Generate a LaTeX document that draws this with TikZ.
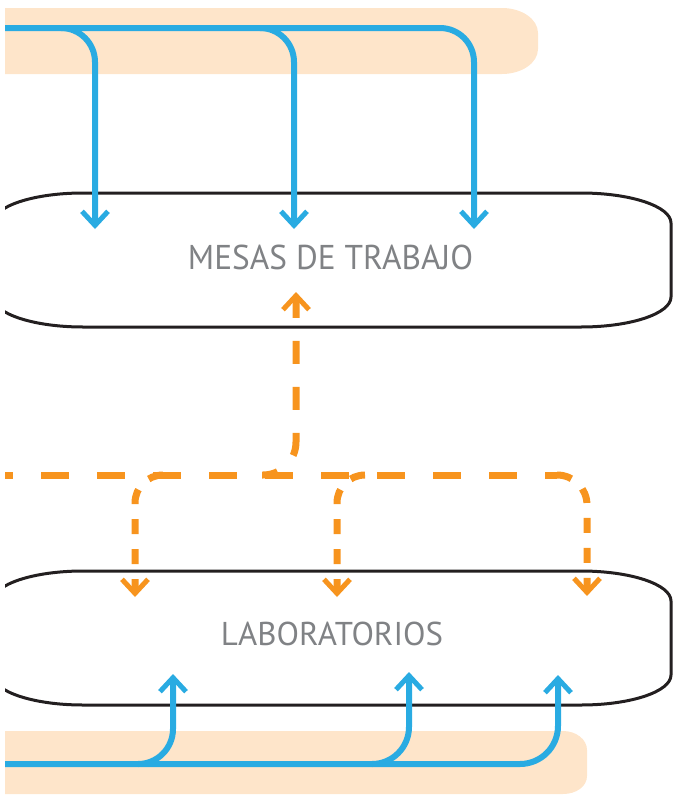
\documentclass[tikz,border=0pt]{standalone}
\usepackage{fontspec}
\setmainfont{PT Sans}
\usetikzlibrary{arrows.meta}
\definecolor{peach}{RGB}{254,229,202}
\definecolor{flowblue}{RGB}{41,171,226}
\definecolor{floworange}{RGB}{247,148,30}
\definecolor{boxline}{RGB}{35,31,32}
\definecolor{labelgray}{RGB}{128,130,133}
\tikzset{
  band/.style={fill=peach, draw=none},
  areabox/.style={draw=boxline, line width=3pt, fill=white},
  barbtip/.style={-{Straight Barb[length=14pt,width=26pt,line width=5pt]}},
  blueline/.style={draw=flowblue, line width=6pt},
  bluearrow/.style={blueline, barbtip, rounded corners=34pt},
  orangeline/.style={draw=floworange, line width=7pt, dash pattern=on 28pt off 28pt, dash phase=20pt},
  orangebranch/.style={draw=floworange, line width=7pt, dash pattern=on 15pt off 15pt, barbtip, rounded corners=30pt},
  orangeup/.style={draw=floworange, line width=7pt, dash pattern=on 23pt off 23pt, dash phase=7pt, rounded corners=33pt},
  boxtext/.style={inner sep=0pt, text=labelgray, anchor=base}
}
\begin{document}
\begin{tikzpicture}[x=1pt,y=-1pt]
\useasboundingbox (0,0) rectangle (673,795);
\clip (5,0) rectangle (673,795);
% peach bands
\path[band] (5,8) -- (502,8) .. controls (521.9,8) and (538,19.2) .. (538,33)
  -- (538,49) .. controls (538,62.8) and (521.9,74) .. (502,74) -- (5,74) -- cycle;
\path[band] (5,731) -- (563,731) .. controls (576.3,731) and (587,739.5) .. (587,750)
  -- (587,776) .. controls (587,786.5) and (576.3,794) .. (563,794) -- (5,794) -- cycle;
% boxes
\path[areabox] (83,193) -- (581,193) .. controls (630.7,193) and (671,206.4) .. (671,223)
  -- (671,297) .. controls (671,313.6) and (630.7,327) .. (581,327)
  -- (83,327) .. controls (33.3,327) and (-7,313.6) .. (-7,297)
  -- (-7,223) .. controls (-7,206.4) and (33.3,193) .. (83,193) -- cycle;
\path[areabox] (83,571) -- (581,571) .. controls (630.7,571) and (671,584.4) .. (671,601)
  -- (671,675) .. controls (671,691.6) and (630.7,705) .. (581,705)
  -- (83,705) .. controls (33.3,705) and (-7,691.6) .. (-7,675)
  -- (-7,601) .. controls (-7,584.4) and (33.3,571) .. (83,571) -- cycle;
% labels
\node[boxtext] (mesas) at (330.5,269) {\resizebox{285pt}{24.5pt}{MESAS DE TRABAJO}};
\node[boxtext] (labs) at (332,645) {\resizebox{222pt}{23.5pt}{LABORATORIOS}};
% coordinates
\coordinate (topstart) at (5,28);
\coordinate (tb1) at (62,28);
\coordinate (tb2) at (260,28);
\coordinate (t1) at (95,229);
\coordinate (t2) at (294,229);
\coordinate (t3) at (474,229);
\coordinate (botstart) at (5,764);
\coordinate (bb1) at (138,764);
\coordinate (bb2) at (372,764);
\coordinate (b1) at (173,674);
\coordinate (b2) at (409,672);
\coordinate (b3) at (558,675);
\coordinate (ostart) at (5,475);
\coordinate (oend) at (557,475);
\coordinate (ob1) at (163,475);
\coordinate (ob2) at (365,475);
\coordinate (ojoin) at (262,475);
\coordinate (o1) at (135,597);
\coordinate (o2) at (337,597);
\coordinate (o3) at (587,596);
\coordinate (oup) at (296,292);
% blue top flows
\draw[bluearrow] (topstart) -| (t3);
\draw[bluearrow] (tb1) -| (t1);
\draw[bluearrow] (tb2) -| (t2);
% blue bottom flows
\draw[bluearrow, rounded corners=38pt] (botstart) -| (b3);
\draw[bluearrow, rounded corners=35pt] (bb1) -| (b1);
\draw[bluearrow, rounded corners=37pt] (bb2) -| (b2);
% orange flows
\draw[orangeline] (ostart) -- (oend);
\draw[orangeup, barbtip] (ojoin) -| (oup);
\draw[orangebranch, rounded corners=28pt] (ob1) -| (o1);
\draw[orangebranch, rounded corners=28pt] (ob2) -| (o2);
\draw[orangebranch] (oend) -| (o3);
\end{tikzpicture}
\end{document}
